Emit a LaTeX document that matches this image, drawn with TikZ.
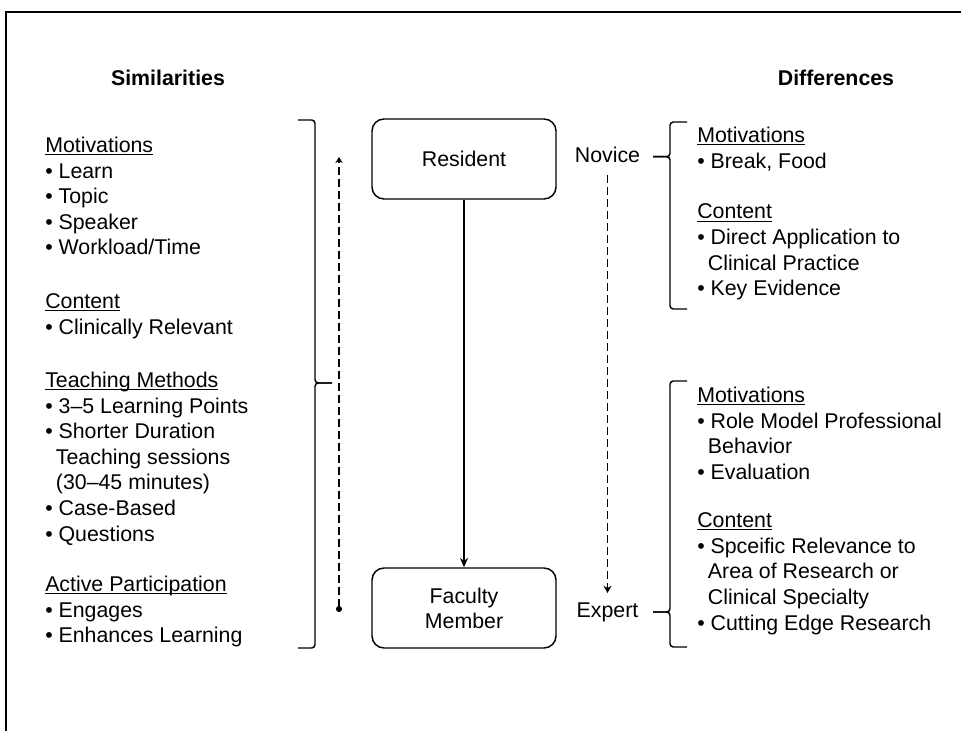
\documentclass[tikz,border=0pt]{standalone}
\usepackage{fontspec}
\setmainfont{Liberation Sans}
\usetikzlibrary{arrows.meta}

% underlined section heading with a fixed rule position
\newlength\uheadw
\newcommand{\uhead}[1]{\settowidth{\uheadw}{#1}\rlap{\rule[-2pt]{\uheadw}{0.8pt}}#1}
% indent for the wrapped line of a bullet item
\newcommand{\contline}{\hspace*{0.5em}}

\begin{document}
\begin{tikzpicture}[x=0.75pt,y=-0.75pt,
  bodyfont/.style={font=\fontsize{16}{19.2}\selectfont},
  listblock/.style={bodyfont, inner sep=0pt, anchor=base west},
  title/.style={font=\fontsize{16}{19.2}\selectfont\bfseries, inner sep=0pt},
  stagebox/.style={draw, line width=1.1pt, rounded corners=9pt,
    minimum width=138pt, minimum height=60pt, align=center,
    font=\fontsize{16}{18.8}\selectfont},
  levellabel/.style={bodyfont, inner sep=0pt, anchor=base},
  bracket/.style={line width=1.1pt, rounded corners=2.5pt},
  guide/.style={line width=1.1pt, dash pattern=on 5.5pt off 3.5pt},
  frameline/.style={line width=1.5pt}]

\useasboundingbox (0,0) rectangle (961,731);

% outer frame (open to the right and bottom)
\draw[frameline] (961,12.2) -- (5.7,12.2) -- (5.7,731);

% column titles
\node[title] (sim) at (168,78) {Similarities};
\node[title] (dif) at (836,78) {Differences};

% similarities column
\node[listblock] (simmot) at (45,152.5) {\begin{tabular}[t]{@{}l@{}}
  \uhead{Motivations}\\ • Learn\\ • Topic\\ • Speaker\\ • Workload/Time
\end{tabular}};
\node[listblock] (simcon) at (45,308.5) {\begin{tabular}[t]{@{}l@{}}
  \uhead{Content}\\ • Clinically Relevant
\end{tabular}};
\node[listblock] (simteach) at (45,387.5) {\begin{tabular}[t]{@{}l@{}}
  \uhead{Teaching Methods}\\ • 3–5 Learning Points\\ • Shorter Duration\\
  \contline Teaching sessions\\ \contline (30–45 minutes)\\ • Case-Based\\ • Questions
\end{tabular}};
\node[listblock] (simact) at (45,591.5) {\begin{tabular}[t]{@{}l@{}}
  \uhead{Active Participation}\\ • Engages\\ • Enhances Learning
\end{tabular}};

% differences column, novice side
\node[listblock] (novmot) at (697,142.7) {\begin{tabular}[t]{@{}l@{}}
  \uhead{Motivations}\\ • Break, Food
\end{tabular}};
\node[listblock] (novcon) at (697,219) {\begin{tabular}[t]{@{}l@{}}
  \uhead{Content}\\ • Direct Application to\\ \contline Clinical Practice\\ • Key Evidence
\end{tabular}};

% differences column, expert side
\node[listblock] (expmot) at (697,402.7) {\begin{tabular}[t]{@{}l@{}}
  \uhead{Motivations}\\ • Role Model Professional\\ \contline Behavior\\ • Evaluation
\end{tabular}};
\node[listblock] (expcon) at (697,527.7) {\begin{tabular}[t]{@{}l@{}}
  \uhead{Content}\\ • Spceific Relevance to\\ \contline Area of Research or\\
  \contline Clinical Specialty\\ • Cutting Edge Research
\end{tabular}};

% the two roles
\node[stagebox] (res) at (464,159) {Resident};
\node[stagebox] (fac) at (464,608) {Faculty\\Member};
\draw[line width=1.1pt, -{Stealth[length=7pt,width=6pt]}] (res) -- (fac);

% novice / expert scale
\node[levellabel] (nov) at (607.5,162.7) {Novice};
\node[levellabel] (exp) at (607.5,617.3) {Expert};
\draw[guide, -{Stealth[length=5.5pt,width=6pt]}, shorten <=9pt, shorten >=7pt] (nov) -- (exp);

% shared span beside the similarities
\coordinate (spantop) at (339,157);
\coordinate (spanbot) at (339,612);
\draw[guide, {Circle[length=4.5pt]}-{Stealth[length=4.5pt,width=5.5pt]}] (spanbot) -- (spantop);

% bracket grouping the similarities
\draw[bracket] (298,120) -- (315,120) -- (315,383) -- (332,383);
\draw[bracket] (332,383) -- (315,383) -- (315,648) -- (298,648);

% bracket for the novice differences
\draw[bracket] (687,122) -- (670,122) -- (670,156.7) -- (653,156.7);
\draw[bracket] (653,156.7) -- (670,156.7) -- (670,309) -- (687,309);

% bracket for the expert differences
\draw[bracket] (687,381) -- (670,381) -- (670,612) -- (653,612);
\draw[bracket] (653,612) -- (670,612) -- (670,647) -- (687,647);

\end{tikzpicture}
\end{document}
